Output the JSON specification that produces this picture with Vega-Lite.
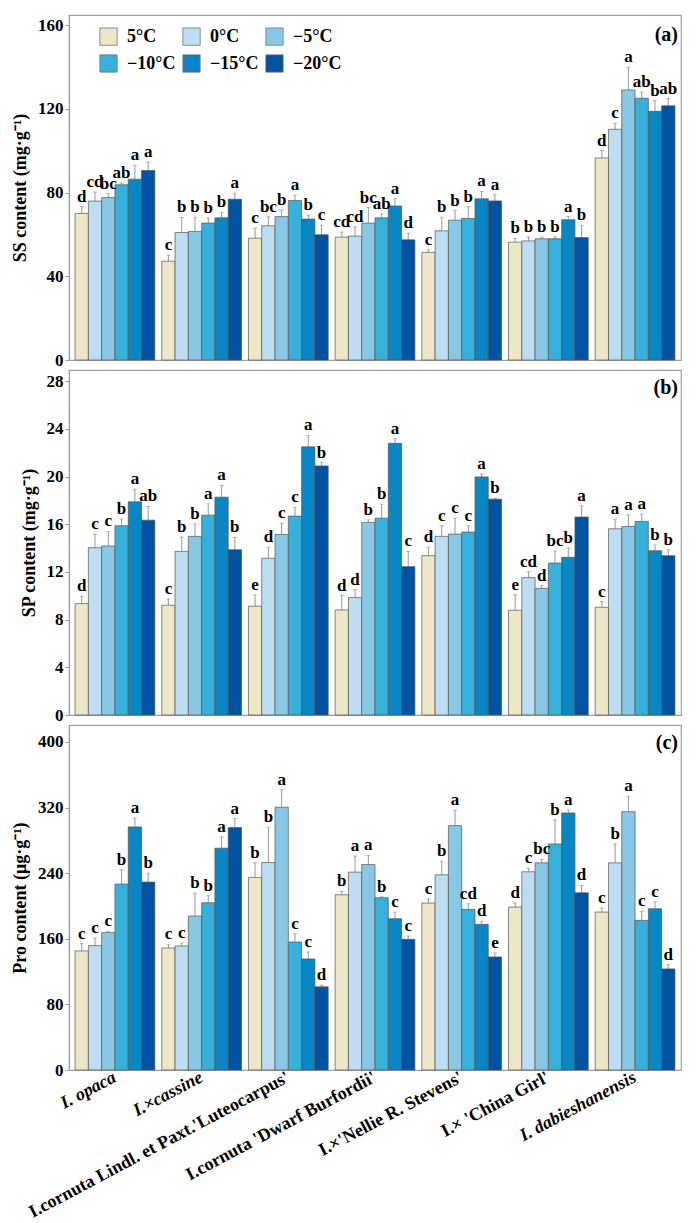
{
  "$schema": "https://vega.github.io/schema/vega-lite/v6.json",
  "background": "white",
  "padding": {"left": 10, "top": 14, "right": 14, "bottom": 2},
  "spacing": 0,
  "config": {
    "font": "Liberation Serif",
    "view": {"stroke": "#a0a0a0", "strokeWidth": 1.2},
    "axis": {
      "labelFont": "Liberation Serif", "labelFontWeight": "bold", "labelFontSize": 17, "labelColor": "black",
      "titleFont": "Liberation Serif", "titleFontWeight": "bold", "titleFontSize": 18, "titleColor": "black",
      "domainColor": "#a0a0a0", "tickColor": "#a0a0a0", "domainWidth": 1.2, "grid": false
    },
    "legend": {"labelFont": "Liberation Serif", "labelFontWeight": "bold", "labelFontSize": 18, "labelColor": "black"},
    "title": {"font": "Liberation Serif", "fontWeight": "bold", "fontSize": 20, "color": "black"}
  },
  "datasets": {
    "d": [
      {"cv": "I. opaca", "t": "5°C", "ss": 70.0, "ssh": 73.3, "ssl": "d", "sp": 9.35, "sph": 9.96, "spl": "d", "pro": 145.2, "proh": 154.1, "prol": "c"},
      {"cv": "I. opaca", "t": "0°C", "ss": 75.9, "ssh": 80.2, "ssl": "cd", "sp": 14.04, "sph": 15.18, "spl": "c", "pro": 151.7, "proh": 161.0, "prol": "c"},
      {"cv": "I. opaca", "t": "−5°C", "ss": 77.6, "ssh": 79.5, "ssl": "bc", "sp": 14.18, "sph": 15.4, "spl": "c", "pro": 167.5, "proh": 169.1, "prol": "c"},
      {"cv": "I. opaca", "t": "−10°C", "ss": 83.7, "ssh": 84.5, "ssl": "ab", "sp": 15.88, "sph": 16.44, "spl": "b", "pro": 226.7, "proh": 244.1, "prol": "b"},
      {"cv": "I. opaca", "t": "−15°C", "ss": 86.4, "ssh": 93.0, "ssl": "a", "sp": 17.89, "sph": 18.95, "spl": "a", "pro": 296.4, "proh": 307.0, "prol": "a"},
      {"cv": "I. opaca", "t": "−20°C", "ss": 90.5, "ssh": 94.5, "ssl": "a", "sp": 16.35, "sph": 17.5, "spl": "ab", "pro": 229.1, "proh": 240.1, "prol": "b"},

      {"cv": "I.×cassine", "t": "5°C", "ss": 47.2, "ssh": 50.1, "ssl": "c", "sp": 9.21, "sph": 9.74, "spl": "c", "pro": 148.8, "proh": 153.3, "prol": "c"},
      {"cv": "I.×cassine", "t": "0°C", "ss": 60.9, "ssh": 68.1, "ssl": "b", "sp": 13.73, "sph": 14.93, "spl": "b", "pro": 151.3, "proh": 154.9, "prol": "c"},
      {"cv": "I.×cassine", "t": "−5°C", "ss": 61.4, "ssh": 68.2, "ssl": "b", "sp": 14.99, "sph": 16.02, "spl": "b", "pro": 187.8, "proh": 215.7, "prol": "b"},
      {"cv": "I.×cassine", "t": "−10°C", "ss": 65.4, "ssh": 67.8, "ssl": "b", "sp": 16.77, "sph": 17.72, "spl": "a", "pro": 204.0, "proh": 212.5, "prol": "b"},
      {"cv": "I.×cassine", "t": "−15°C", "ss": 67.9, "ssh": 70.5, "ssl": "b", "sp": 18.28, "sph": 19.26, "spl": "a", "pro": 270.5, "proh": 284.3, "prol": "a"},
      {"cv": "I.×cassine", "t": "−20°C", "ss": 76.8, "ssh": 79.7, "ssl": "a", "sp": 13.87, "sph": 14.9, "spl": "b", "pro": 295.6, "proh": 306.6, "prol": "a"},

      {"cv": "I.cornuta Lindl. et Paxt.'Luteocarpus'", "t": "5°C", "ss": 58.2, "ssh": 63.0, "ssl": "c", "sp": 9.13, "sph": 10.08, "spl": "e", "pro": 234.8, "proh": 252.6, "prol": "b"},
      {"cv": "I.cornuta Lindl. et Paxt.'Luteocarpus'", "t": "0°C", "ss": 64.1, "ssh": 68.4, "ssl": "bc", "sp": 13.15, "sph": 14.07, "spl": "d", "pro": 253.0, "proh": 296.0, "prol": "b"},
      {"cv": "I.cornuta Lindl. et Paxt.'Luteocarpus'", "t": "−5°C", "ss": 68.5, "ssh": 71.7, "ssl": "b", "sp": 15.15, "sph": 16.1, "spl": "c", "pro": 320.4, "proh": 341.9, "prol": "a"},
      {"cv": "I.cornuta Lindl. et Paxt.'Luteocarpus'", "t": "−10°C", "ss": 76.2, "ssh": 78.7, "ssl": "a", "sp": 16.69, "sph": 17.42, "spl": "c", "pro": 156.1, "proh": 165.9, "prol": "c"},
      {"cv": "I.cornuta Lindl. et Paxt.'Luteocarpus'", "t": "−15°C", "ss": 67.3, "ssh": 69.2, "ssl": "b", "sp": 22.5, "sph": 23.47, "spl": "a", "pro": 135.4, "proh": 144.0, "prol": "c"},
      {"cv": "I.cornuta Lindl. et Paxt.'Luteocarpus'", "t": "−20°C", "ss": 59.8, "ssh": 64.4, "ssl": "c", "sp": 20.9, "sph": 21.18, "spl": "b", "pro": 101.4, "proh": 103.4, "prol": "d"},

      {"cv": "I.cornuta 'Dwarf Burfordii'", "t": "5°C", "ss": 58.7, "ssh": 61.1, "ssl": "cd", "sp": 8.82, "sph": 10.02, "spl": "d", "pro": 213.7, "proh": 217.8, "prol": "b"},
      {"cv": "I.cornuta 'Dwarf Burfordii'", "t": "0°C", "ss": 59.2, "ssh": 63.6, "ssl": "cd", "sp": 9.85, "sph": 10.52, "spl": "d", "pro": 241.3, "proh": 260.8, "prol": "a"},
      {"cv": "I.cornuta 'Dwarf Burfordii'", "t": "−5°C", "ss": 65.4, "ssh": 72.8, "ssl": "bc", "sp": 16.16, "sph": 16.38, "spl": "b", "pro": 250.6, "proh": 261.6, "prol": "a"},
      {"cv": "I.cornuta 'Dwarf Burfordii'", "t": "−10°C", "ss": 67.9, "ssh": 69.7, "ssl": "ab", "sp": 16.52, "sph": 17.7, "spl": "b", "pro": 210.1, "proh": 211.3, "prol": "b"},
      {"cv": "I.cornuta 'Dwarf Burfordii'", "t": "−15°C", "ss": 73.6, "ssh": 77.0, "ssl": "a", "sp": 22.8, "sph": 23.19, "spl": "a", "pro": 184.5, "proh": 192.6, "prol": "c"},
      {"cv": "I.cornuta 'Dwarf Burfordii'", "t": "−20°C", "ss": 57.4, "ssh": 60.6, "ssl": "d", "sp": 12.45, "sph": 13.73, "spl": "c", "pro": 159.4, "proh": 163.4, "prol": "c"},

      {"cv": "I.×'Nellie R. Stevens'", "t": "5°C", "ss": 51.4, "ssh": 52.6, "ssl": "c", "sp": 13.37, "sph": 14.07, "spl": "d", "pro": 203.6, "proh": 208.8, "prol": "c"},
      {"cv": "I.×'Nellie R. Stevens'", "t": "0°C", "ss": 61.7, "ssh": 68.2, "ssl": "b", "sp": 14.99, "sph": 15.88, "spl": "c", "pro": 238.0, "proh": 254.7, "prol": "b"},
      {"cv": "I.×'Nellie R. Stevens'", "t": "−5°C", "ss": 66.8, "ssh": 71.4, "ssl": "b", "sp": 15.18, "sph": 16.52, "spl": "c", "pro": 298.0, "proh": 316.7, "prol": "a"},
      {"cv": "I.×'Nellie R. Stevens'", "t": "−10°C", "ss": 67.6, "ssh": 73.3, "ssl": "b", "sp": 15.35, "sph": 15.88, "spl": "c", "pro": 195.9, "proh": 202.8, "prol": "cd"},
      {"cv": "I.×'Nellie R. Stevens'", "t": "−15°C", "ss": 77.0, "ssh": 80.5, "ssl": "a", "sp": 19.98, "sph": 20.23, "spl": "a", "pro": 177.6, "proh": 181.3, "prol": "d"},
      {"cv": "I.×'Nellie R. Stevens'", "t": "−20°C", "ss": 76.0, "ssh": 78.9, "ssl": "a", "sp": 18.11, "sph": 18.17, "spl": "b", "pro": 137.9, "proh": 142.7, "prol": "e"},

      {"cv": "I.× 'China Girl'", "t": "5°C", "ss": 56.3, "ssh": 58.1, "ssl": "b", "sp": 8.79, "sph": 10.1, "spl": "e", "pro": 198.7, "proh": 203.6, "prol": "d"},
      {"cv": "I.× 'China Girl'", "t": "0°C", "ss": 56.9, "ssh": 58.8, "ssl": "b", "sp": 11.53, "sph": 12.03, "spl": "cd", "pro": 241.7, "proh": 246.2, "prol": "c"},
      {"cv": "I.× 'China Girl'", "t": "−5°C", "ss": 57.9, "ssh": 58.7, "ssl": "b", "sp": 10.63, "sph": 10.86, "spl": "d", "pro": 252.6, "proh": 256.7, "prol": "bc"},
      {"cv": "I.× 'China Girl'", "t": "−10°C", "ss": 57.9, "ssh": 58.8, "ssl": "b", "sp": 12.75, "sph": 13.76, "spl": "bc", "pro": 275.7, "proh": 305.0, "prol": "b"},
      {"cv": "I.× 'China Girl'", "t": "−15°C", "ss": 67.0, "ssh": 68.5, "ssl": "a", "sp": 13.23, "sph": 14.01, "spl": "b", "pro": 313.5, "proh": 317.1, "prol": "a"},
      {"cv": "I.× 'China Girl'", "t": "−20°C", "ss": 58.5, "ssh": 64.4, "ssl": "b", "sp": 16.61, "sph": 17.55, "spl": "a", "pro": 216.1, "proh": 225.1, "prol": "d"},

      {"cv": "I. dabieshanensis", "t": "5°C", "ss": 96.5, "ssh": 100.0, "ssl": "d", "sp": 9.04, "sph": 9.52, "spl": "c", "pro": 192.6, "proh": 197.5, "prol": "c"},
      {"cv": "I. dabieshanensis", "t": "0°C", "ss": 110.2, "ssh": 113.1, "ssl": "c", "sp": 15.63, "sph": 16.44, "spl": "a", "pro": 252.6, "proh": 275.7, "prol": "b"},
      {"cv": "I. dabieshanensis", "t": "−5°C", "ss": 129.0, "ssh": 139.8, "ssl": "a", "sp": 15.82, "sph": 16.8, "spl": "a", "pro": 315.0, "proh": 333.7, "prol": "a"},
      {"cv": "I. dabieshanensis", "t": "−10°C", "ss": 125.0, "ssh": 128.0, "ssl": "ab", "sp": 16.24, "sph": 16.86, "spl": "a", "pro": 182.5, "proh": 193.4, "prol": "c"},
      {"cv": "I. dabieshanensis", "t": "−15°C", "ss": 118.8, "ssh": 123.9, "ssl": "b", "sp": 13.79, "sph": 14.26, "spl": "b", "pro": 196.7, "proh": 205.2, "prol": "c"},
      {"cv": "I. dabieshanensis", "t": "−20°C", "ss": 121.4, "ssh": 124.9, "ssl": "ab", "sp": 13.37, "sph": 13.87, "spl": "b", "pro": 123.3, "proh": 128.5, "prol": "d"}
    ]
  },
  "data": {"name": "d"},
  "resolve": {"scale": {"y": "independent"}},
  "vconcat": [
    {
      "width": 612, "height": 345,
      "title": {"text": "(a)", "anchor": "end", "orient": "top", "offset": -30, "dx": -3},
      "encoding": {
        "x": {"field": "cv", "type": "nominal", "sort": null, "axis": null,
              "scale": {"paddingInner": 0.08, "paddingOuter": 0.07}},
        "xOffset": {"field": "t", "type": "nominal", "scale": {"domain": ["5°C", "0°C", "−5°C", "−10°C", "−15°C", "−20°C"], "paddingInner": 0}}
      },
      "layer": [
        {
          "mark": {"type": "rule", "color": "#999999", "strokeWidth": 1},
          "encoding": {"y": {"field": "ss", "type": "quantitative"}, "y2": {"field": "ssh"}}
        },
        {
          "mark": {"type": "tick", "color": "#999999", "size": 4, "thickness": 1},
          "encoding": {"y": {"field": "ssh", "type": "quantitative"}}
        },
        {
          "mark": {"type": "bar", "stroke": "#555555", "strokeWidth": 0.7},
          "encoding": {
            "y": {"field": "ss", "type": "quantitative", "scale": {"domain": [0, 164.8], "nice": false},
                  "axis": {"values": [0, 40, 80, 120, 160], "title": "SS content (mg·g⁻¹)", "tickSize": 4, "titlePadding": 8}},
            "color": {"field": "t", "type": "nominal",
              "scale": {"domain": ["5°C", "0°C", "−5°C", "−10°C", "−15°C", "−20°C"],
                        "range": ["#EDE7C8", "#BDDDF2", "#88C8E4", "#38B0DC", "#0A86C4", "#0152A1"]},
              "legend": {"title": null, "orient": "none", "legendX": 30, "legendY": 12, "direction": "horizontal", "columns": 3,
                         "columnPadding": 5, "rowPadding": 6,
                         "symbolType": "square", "symbolSize": 300, "symbolStrokeColor": "#777777", "symbolStrokeWidth": 0.8, "labelOffset": 9}}
          }
        },
        {
          "mark": {"type": "text", "baseline": "bottom", "dy": -1, "fontSize": 17, "fontWeight": "bold", "color": "black"},
          "encoding": {"y": {"field": "ssh", "type": "quantitative"}, "text": {"field": "ssl"}}
        }
      ]
    },
    {
      "width": 612, "height": 345,
      "title": {"text": "(b)", "anchor": "end", "orient": "top", "offset": -28, "dx": -3},
      "encoding": {
        "x": {"field": "cv", "type": "nominal", "sort": null, "axis": null,
              "scale": {"paddingInner": 0.08, "paddingOuter": 0.07}},
        "xOffset": {"field": "t", "type": "nominal", "scale": {"domain": ["5°C", "0°C", "−5°C", "−10°C", "−15°C", "−20°C"], "paddingInner": 0}}
      },
      "layer": [
        {
          "mark": {"type": "rule", "color": "#999999", "strokeWidth": 1},
          "encoding": {"y": {"field": "sp", "type": "quantitative"}, "y2": {"field": "sph"}}
        },
        {
          "mark": {"type": "tick", "color": "#999999", "size": 4, "thickness": 1},
          "encoding": {"y": {"field": "sph", "type": "quantitative"}}
        },
        {
          "mark": {"type": "bar", "stroke": "#555555", "strokeWidth": 0.7},
          "encoding": {
            "y": {"field": "sp", "type": "quantitative", "scale": {"domain": [0, 28.95], "nice": false},
                  "axis": {"values": [0, 4, 8, 12, 16, 20, 24, 28], "title": "SP content (mg·g⁻¹)", "tickSize": 4, "titlePadding": 8}},
            "color": {"field": "t", "type": "nominal", "legend": null,
              "scale": {"domain": ["5°C", "0°C", "−5°C", "−10°C", "−15°C", "−20°C"],
                        "range": ["#EDE7C8", "#BDDDF2", "#88C8E4", "#38B0DC", "#0A86C4", "#0152A1"]}}
          }
        },
        {
          "mark": {"type": "text", "baseline": "bottom", "dy": -1, "fontSize": 17, "fontWeight": "bold", "color": "black"},
          "encoding": {"y": {"field": "sph", "type": "quantitative"}, "text": {"field": "spl"}}
        }
      ]
    },
    {
      "width": 612, "height": 345,
      "title": {"text": "(c)", "anchor": "end", "orient": "top", "offset": -28, "dx": -3},
      "encoding": {
        "x": {"field": "cv", "type": "nominal", "sort": null,
              "scale": {"paddingInner": 0.08, "paddingOuter": 0.07},
              "axis": {"title": null, "labelAngle": -28, "labelAlign": "right", "labelBaseline": "middle", "labelFontSize": 18,
                       "ticks": false, "labelPadding": 6, "labelLimit": 400,
                       "labelFontStyle": {"condition": {"test": "indexof(['I. opaca','I.×cassine','I. dabieshanensis'], datum.value) >= 0", "value": "italic"}, "value": "normal"}}},
        "xOffset": {"field": "t", "type": "nominal", "scale": {"domain": ["5°C", "0°C", "−5°C", "−10°C", "−15°C", "−20°C"], "paddingInner": 0}}
      },
      "layer": [
        {
          "mark": {"type": "rule", "color": "#999999", "strokeWidth": 1},
          "encoding": {"y": {"field": "pro", "type": "quantitative"}, "y2": {"field": "proh"}}
        },
        {
          "mark": {"type": "tick", "color": "#999999", "size": 4, "thickness": 1},
          "encoding": {"y": {"field": "proh", "type": "quantitative"}}
        },
        {
          "mark": {"type": "bar", "stroke": "#555555", "strokeWidth": 0.7},
          "encoding": {
            "y": {"field": "pro", "type": "quantitative", "scale": {"domain": [0, 420.7], "nice": false},
                  "axis": {"values": [0, 80, 160, 240, 320, 400], "title": "Pro content (μg·g⁻¹)", "tickSize": 4, "titlePadding": 8}},
            "color": {"field": "t", "type": "nominal", "legend": null,
              "scale": {"domain": ["5°C", "0°C", "−5°C", "−10°C", "−15°C", "−20°C"],
                        "range": ["#EDE7C8", "#BDDDF2", "#88C8E4", "#38B0DC", "#0A86C4", "#0152A1"]}}
          }
        },
        {
          "mark": {"type": "text", "baseline": "bottom", "dy": -1, "fontSize": 17, "fontWeight": "bold", "color": "black"},
          "encoding": {"y": {"field": "proh", "type": "quantitative"}, "text": {"field": "prol"}}
        }
      ]
    }
  ]
}
